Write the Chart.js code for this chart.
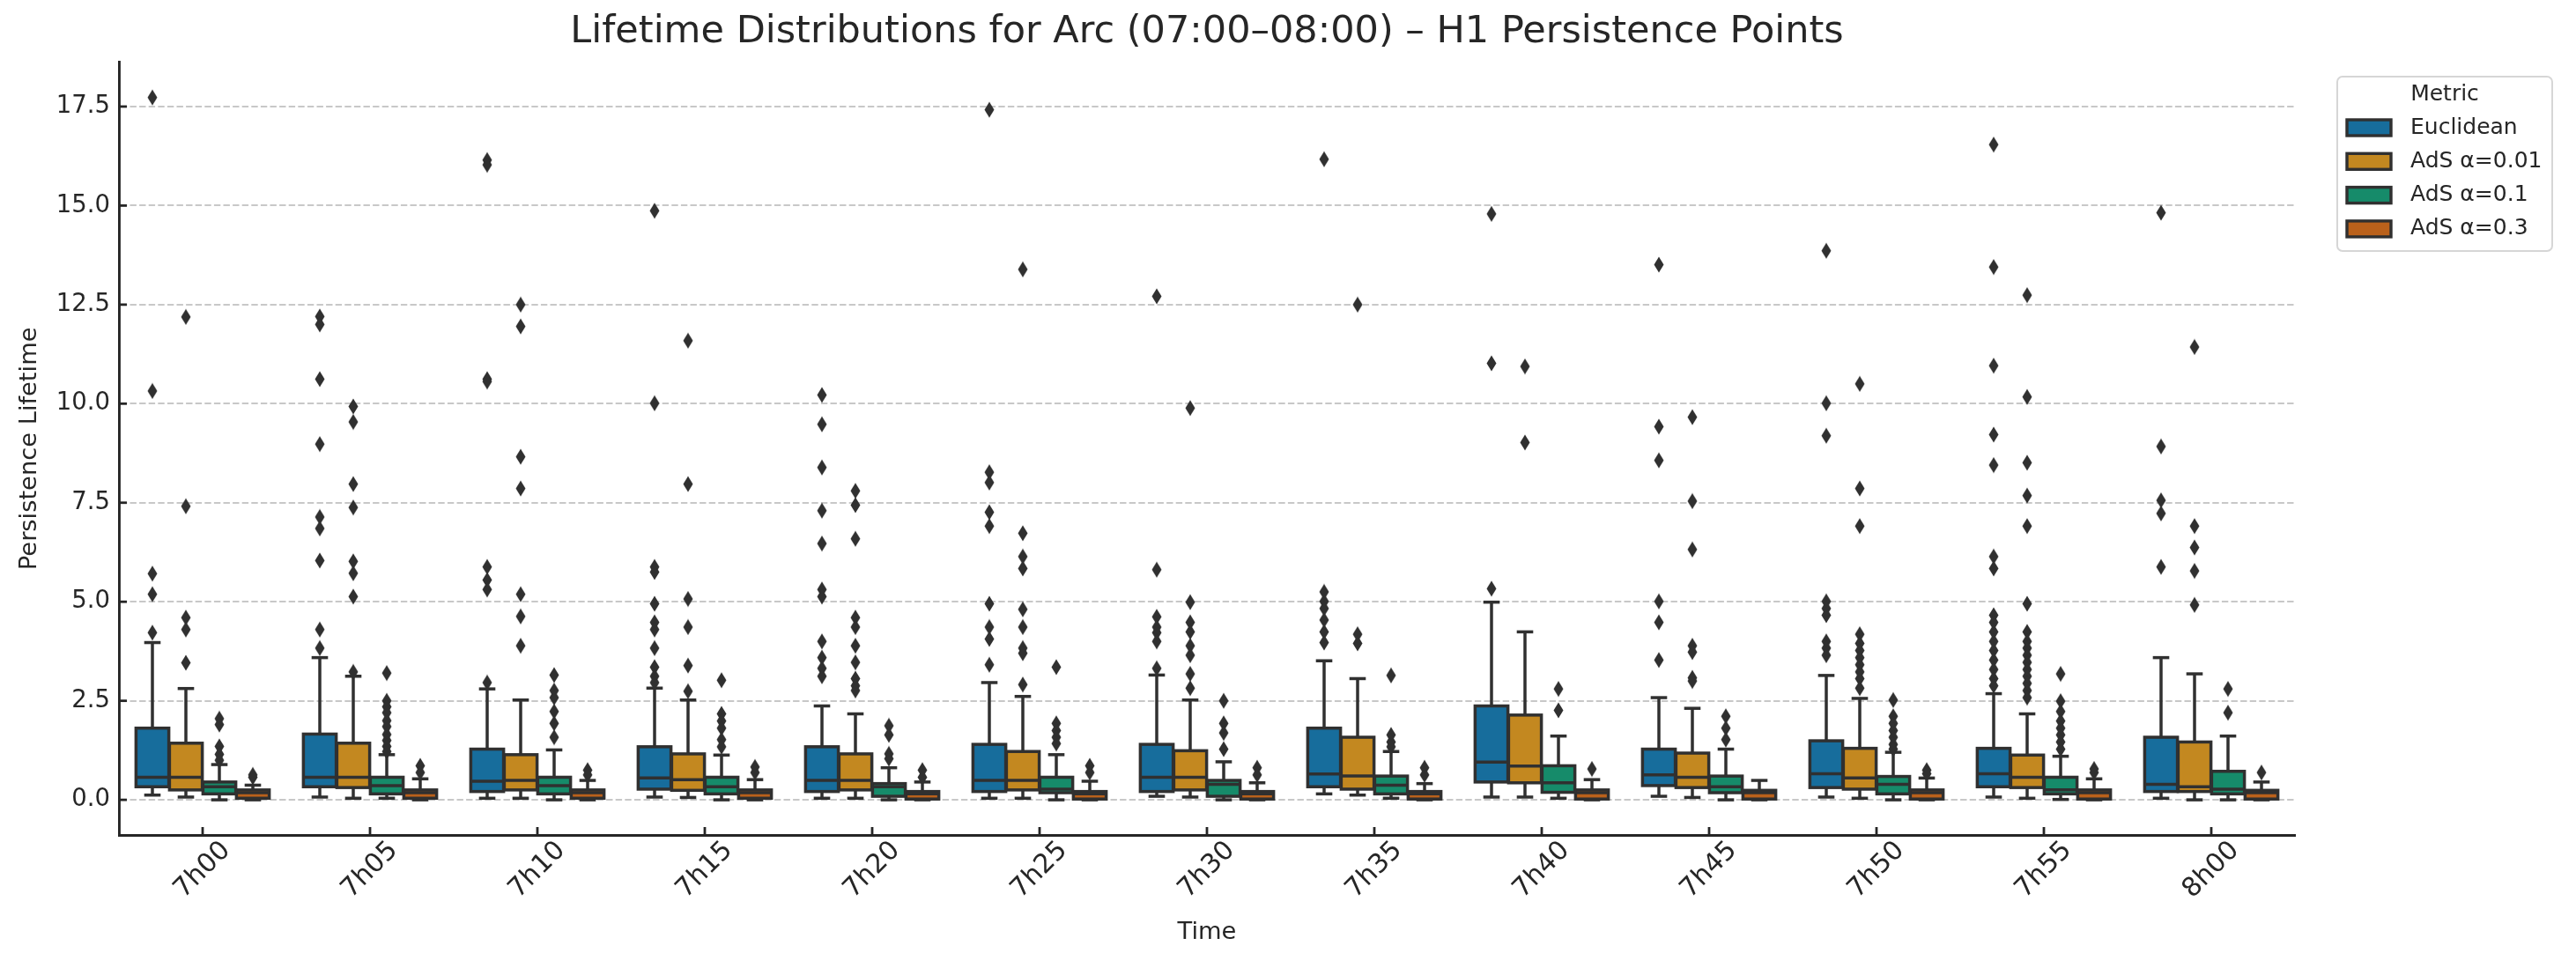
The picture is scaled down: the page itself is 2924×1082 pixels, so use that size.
<!DOCTYPE html>
<html>
<head>
<meta charset="utf-8">
<script src="https://cdn.jsdelivr.net/npm/chart.js@4.4.1/dist/chart.umd.min.js"></script>
<style>
  html, body { margin: 0; padding: 0; background: #fff; }
  #wrap { width: 2924px; height: 1082px; }
</style>
</head>
<body>
<div id="wrap"><canvas id="boxChart" width="2924" height="1082"></canvas></div>
<script>
// categories and series
const times = ["7h00", "7h05", "7h10", "7h15", "7h20", "7h25", "7h30", "7h35", "7h40", "7h45", "7h50", "7h55", "8h00"];
const metrics = ["Euclidean", "AdS α=0.01", "AdS α=0.1", "AdS α=0.3"];
const colors = ["#176D9C", "#C38820", "#168B6A", "#BA611B"];
const yTicks = [0, 2.5, 5, 7.5, 10, 12.5, 15, 17.5];

// Euclidean
const eucQ1  = [0.33, 0.33, 0.21, 0.27, 0.21, 0.21, 0.21, 0.33, 0.45, 0.36, 0.31, 0.33, 0.21];
const eucMed = [0.57, 0.57, 0.47, 0.55, 0.49, 0.49, 0.57, 0.65, 0.95, 0.63, 0.66, 0.66, 0.39];
const eucQ3  = [1.81, 1.66, 1.28, 1.34, 1.34, 1.40, 1.40, 1.81, 2.37, 1.28, 1.49, 1.30, 1.58];
const eucLo  = [0.12, 0.07, 0.04, 0.07, 0.04, 0.04, 0.09, 0.15, 0.07, 0.09, 0.07, 0.07, 0.04];
const eucHi  = [3.97, 3.59, 2.80, 2.82, 2.37, 2.96, 3.15, 3.51, 4.99, 2.58, 3.14, 2.68, 3.59];
const eucOut = [
  [17.73, 10.32, 5.71, 5.19, 4.22],
  [12.2, 12.0, 10.62, 8.98, 7.14, 6.85, 6.04, 4.3, 3.83],
  [16.15, 16.03, 10.62, 10.56, 5.88, 5.55, 5.31, 2.96],
  [14.87, 10.01, 5.88, 5.75, 4.95, 4.48, 4.3, 3.83, 3.35, 3.12, 2.96],
  [10.22, 9.48, 8.39, 7.3, 6.47, 5.31, 5.13, 4.0, 3.59, 3.32, 3.12],
  [17.42, 8.27, 8.01, 7.26, 6.91, 4.95, 4.36, 4.06, 3.41],
  [12.71, 5.81, 4.62, 4.36, 4.22, 4.0, 3.32],
  [16.17, 5.25, 5.01, 4.83, 4.54, 4.24, 3.97],
  [14.79, 11.02, 5.33],
  [13.51, 9.42, 8.57, 5.01, 4.48, 3.53],
  [13.86, 10.01, 9.19, 5.01, 4.83, 4.66, 4.0, 3.83, 3.65],
  [16.54, 13.45, 10.96, 9.22, 8.45, 6.14, 5.84, 4.66, 4.48, 4.24, 4.0, 3.77, 3.53, 3.29, 3.06, 2.88],
  [14.82, 8.92, 7.56, 7.23, 5.88]
];

// AdS alpha=0.01
const a01Q1  = [0.25, 0.31, 0.25, 0.24, 0.25, 0.25, 0.25, 0.27, 0.43, 0.31, 0.27, 0.31, 0.21];
const a01Med = [0.57, 0.57, 0.49, 0.51, 0.49, 0.49, 0.57, 0.60, 0.85, 0.57, 0.55, 0.57, 0.33];
const a01Q3  = [1.43, 1.43, 1.14, 1.16, 1.16, 1.22, 1.24, 1.58, 2.14, 1.18, 1.30, 1.13, 1.46];
const a01Lo  = [0.07, 0.04, 0.04, 0.06, 0.04, 0.04, 0.07, 0.12, 0.07, 0.06, 0.04, 0.04, 0.0];
const a01Hi  = [2.81, 3.12, 2.52, 2.52, 2.17, 2.61, 2.52, 3.06, 4.24, 2.31, 2.56, 2.17, 3.18];
const a01Out = [
  [12.19, 7.41, 4.6, 4.3, 3.46],
  [9.93, 9.54, 7.97, 7.38, 6.02, 5.72, 5.13, 3.23],
  [12.5, 11.95, 8.66, 7.86, 5.19, 4.63, 3.89],
  [11.59, 7.97, 5.07, 4.36, 3.39, 2.74],
  [7.8, 7.44, 6.59, 4.6, 4.36, 3.89, 3.47, 3.06, 2.88, 2.76],
  [13.39, 6.73, 6.14, 5.84, 4.81, 4.36, 3.83, 3.7, 2.91],
  [9.89, 4.99, 4.48, 4.24, 3.89, 3.65, 3.18, 2.82],
  [12.5, 4.18, 3.95],
  [10.94, 9.02],
  [9.66, 7.54, 6.32, 3.89, 3.73, 3.08, 3.0],
  [10.5, 7.86, 6.91, 4.18, 3.95, 3.77, 3.59, 3.41, 3.23, 3.06, 2.82],
  [12.74, 10.17, 8.51, 7.68, 6.91, 4.95, 4.24, 4.0, 3.83, 3.65, 3.47, 3.29, 3.12, 2.94, 2.76, 2.58],
  [11.43, 6.91, 6.37, 5.78, 4.92]
];

// AdS alpha=0.1
const a1Q1  = [0.15, 0.15, 0.15, 0.15, 0.09, 0.18, 0.09, 0.15, 0.19, 0.18, 0.15, 0.15, 0.15];
const a1Med = [0.33, 0.36, 0.36, 0.33, 0.33, 0.27, 0.39, 0.37, 0.43, 0.33, 0.39, 0.25, 0.27];
const a1Q3  = [0.45, 0.57, 0.57, 0.57, 0.41, 0.57, 0.49, 0.60, 0.86, 0.60, 0.59, 0.57, 0.72];
const a1Lo  = [0.0, 0.04, 0.0, 0.0, 0.0, 0.0, 0.0, 0.04, 0.04, 0.0, 0.0, 0.01, 0.0];
const a1Hi  = [0.89, 1.14, 1.26, 1.13, 0.81, 1.14, 0.96, 1.22, 1.61, 1.28, 1.20, 1.10, 1.61];
const a1Out = [
  [2.05, 1.9, 1.35, 1.15, 1.0],
  [3.2, 2.5, 2.35, 2.2, 2.0, 1.85, 1.65, 1.5, 1.35, 1.22],
  [3.15, 2.76, 2.58, 2.23, 1.93, 1.58],
  [3.02, 2.17, 1.99, 1.81, 1.52, 1.34],
  [1.87, 1.64, 1.16, 1.04],
  [3.35, 1.93, 1.75, 1.58, 1.42],
  [2.5, 1.93, 1.69, 1.28],
  [3.14, 1.64, 1.46, 1.34],
  [2.8, 2.26],
  [2.11, 1.81, 1.52],
  [2.52, 2.11, 1.93, 1.75, 1.58, 1.4, 1.28],
  [3.18, 2.49, 2.23, 1.99, 1.81, 1.64, 1.46, 1.28],
  [2.8, 2.2]
];

// AdS alpha=0.3
const a3Q1  = [0.04, 0.04, 0.04, 0.04, 0.02, 0.02, 0.02, 0.02, 0.02, 0.02, 0.02, 0.02, 0.02];
const a3Med = [0.18, 0.18, 0.18, 0.18, 0.15, 0.15, 0.15, 0.15, 0.18, 0.18, 0.18, 0.18, 0.18];
const a3Q3  = [0.25, 0.25, 0.25, 0.25, 0.21, 0.21, 0.21, 0.21, 0.25, 0.24, 0.25, 0.25, 0.24];
const a3Lo  = [0, 0, 0, 0, 0, 0, 0, 0, 0, 0, 0, 0, 0];
const a3Hi  = [0.37, 0.53, 0.49, 0.51, 0.45, 0.47, 0.43, 0.41, 0.51, 0.49, 0.55, 0.53, 0.45];
const a3Out = [
  [0.63, 0.57], [0.86, 0.69], [0.75, 0.63], [0.83, 0.69], [0.75, 0.57], [0.86, 0.69],
  [0.81, 0.63], [0.81, 0.63], [0.78], [], [0.75, 0.66], [0.78, 0.69], [0.69]
];

const stats = [
  { q1: eucQ1, med: eucMed, q3: eucQ3, lo: eucLo, hi: eucHi, out: eucOut },
  { q1: a01Q1, med: a01Med, q3: a01Q3, lo: a01Lo, hi: a01Hi, out: a01Out },
  { q1: a1Q1,  med: a1Med,  q3: a1Q3,  lo: a1Lo,  hi: a1Hi,  out: a1Out },
  { q1: a3Q1,  med: a3Med,  q3: a3Q3,  lo: a3Lo,  hi: a3Hi,  out: a3Out }
];

const INK = "#262626";
const GRAY = "#303030";
const FONT = "'DejaVu Sans', sans-serif";
const XTICK_PX = 30;
const YTICK_PX = 27.5;
Chart.defaults.font.family = FONT;
Chart.defaults.color = INK;

// hue dodge on the numeric x axis: 4 boxes side by side inside 0.8 of a slot
const dodge = h => (h - 1.5) * 0.2;

// thin diamond marker like matplotlib 'd'
function thinDiamond() {
  const c = document.createElement("canvas");
  c.width = 12; c.height = 19;
  const g = c.getContext("2d");
  g.fillStyle = GRAY;
  g.beginPath();
  g.moveTo(6, 0.5); g.lineTo(11.5, 9.5); g.lineTo(6, 18.5); g.lineTo(0.5, 9.5);
  g.closePath(); g.fill();
  return c;
}
const marker = thinDiamond();

// whiskers, caps, box edges and medians, drawn from the bar elements
const boxDecor = {
  id: "boxDecor",
  afterDatasetDraw(chart, args) {
    if (args.index >= stats.length) return;
    const s = stats[args.index];
    const ys = chart.scales.y;
    const ctx = chart.ctx;
    const line = (x1, y1, x2, y2) => { ctx.beginPath(); ctx.moveTo(x1, y1); ctx.lineTo(x2, y2); ctx.stroke(); };
    ctx.save();
    ctx.strokeStyle = GRAY;
    ctx.lineWidth = 3.5;
    args.meta.data.forEach((bar, i) => {
      const { x, width } = bar.getProps(["x", "width"], true);
      const y1 = ys.getPixelForValue(s.q1[i]);
      const y3 = ys.getPixelForValue(s.q3[i]);
      const ym = ys.getPixelForValue(s.med[i]);
      const yl = ys.getPixelForValue(s.lo[i]);
      const yh = ys.getPixelForValue(s.hi[i]);
      const cap = width / 4;
      line(x, y3, x, yh);
      line(x, y1, x, yl);
      line(x - cap, yh, x + cap, yh);
      line(x - cap, yl, x + cap, yl);
      ctx.strokeRect(x - width / 2, y3, width, y1 - y3);
      line(x - width / 2, ym, x + width / 2, ym);
    });
    ctx.restore();
  }
};

// inward tick marks and the 45 degree time labels, centred on each tick
const timeAxis = {
  id: "timeAxis",
  afterDraw(chart) {
    const { ctx, chartArea } = chart;
    const xs = chart.scales.x, ys = chart.scales.y;
    ctx.save();
    ctx.strokeStyle = INK;
    ctx.lineWidth = 2.8;
    ys.ticks.forEach((t, i) => {
      const py = ys.getPixelForTick(i);
      ctx.beginPath(); ctx.moveTo(chartArea.left, py); ctx.lineTo(chartArea.left + 9, py); ctx.stroke();
    });
    ctx.font = XTICK_PX + "px " + FONT;
    ctx.fillStyle = INK;
    ctx.textAlign = "right";
    ctx.textBaseline = "middle";
    times.forEach((t, i) => {
      const px = xs.getPixelForValue(i);
      ctx.beginPath(); ctx.moveTo(px, chartArea.bottom); ctx.lineTo(px, chartArea.bottom - 9); ctx.stroke();
      const w = ctx.measureText(t).width;
      ctx.save();
      ctx.translate(px + w * 0.354, chartArea.bottom + 13);
      ctx.rotate(-Math.PI / 4);
      ctx.fillText(t, 0, 0);
      ctx.restore();
    });
    ctx.restore();
  }
};

// legend box on the right
const legendBox = {
  id: "legendBox",
  afterDraw(chart) {
    const ctx = chart.ctx;
    const L = 2653, T = 87, W = 244, H = 198;
    ctx.save();
    ctx.fillStyle = "rgba(255,255,255,0.8)";
    ctx.strokeStyle = "#d6d6d6";
    ctx.lineWidth = 2;
    ctx.beginPath();
    ctx.roundRect(L, T, W, H, 6);
    ctx.fill();
    ctx.stroke();
    ctx.font = "25px " + FONT;
    ctx.textBaseline = "middle";
    ctx.fillStyle = INK;
    ctx.textAlign = "center";
    ctx.fillText("Metric", L + W / 2, 107);
    ctx.textAlign = "left";
    metrics.forEach((m, h) => {
      const cy = 145 + h * 38.3;
      ctx.fillStyle = colors[h];
      ctx.fillRect(2664, cy - 9, 50, 18);
      ctx.strokeStyle = GRAY;
      ctx.lineWidth = 3.4;
      ctx.strokeRect(2664, cy - 9, 50, 18);
      ctx.fillStyle = INK;
      ctx.fillText(m, 2736, cy);
    });
    ctx.restore();
  }
};

// boxes: floating bars q1..q3 on the numeric slot axis
const boxSets = stats.map((s, h) => ({
  type: "bar",
  label: metrics[h],
  xAxisID: "xo",
  yAxisID: "y",
  data: s.q1.map((v, i) => ({ x: i + dodge(h), y: [v, s.q3[i]] })),
  backgroundColor: colors[h],
  borderWidth: 0,
  grouped: false,
  categoryPercentage: 1,
  barPercentage: 0.98,
  order: 1
}));

// outliers
const flierSets = stats.map((s, h) => ({
  type: "scatter",
  label: metrics[h] + " outliers",
  xAxisID: "xo",
  yAxisID: "y",
  data: s.out.flatMap((vals, i) => vals.map(v => ({ x: i + dodge(h), y: v }))),
  pointStyle: marker,
  pointRadius: 8,
  order: 0
}));

new Chart(document.getElementById("boxChart"), {
  type: "bar",
  data: { labels: times, datasets: [...boxSets, ...flierSets] },
  plugins: [boxDecor, timeAxis, legendBox],
  options: {
    responsive: false,
    devicePixelRatio: 1,
    animation: false,
    layout: { padding: { left: 0, right: 319, top: 0, bottom: 0 } },
    plugins: {
      legend: { display: false },
      tooltip: { enabled: false },
      title: {
        display: true,
        fullSize: false,
        text: "Lifetime Distributions for Arc (07:00–08:00) – H1 Persistence Points",
        color: INK,
        font: { size: 43, weight: "normal" },
        padding: { top: 11, bottom: 8 }
      }
    },
    scales: {
      x: {
        type: "category",
        offset: true,
        grid: { display: false, drawTicks: false },
        border: { display: true, color: INK, width: 2.9 },
        ticks: { display: false },
        title: { display: true, text: "Time", color: INK, font: { size: 27.3 }, padding: { top: 0, bottom: 6.5 } },
        afterFit(s) { s.height = 134; }
      },
      xo: { type: "linear", display: false, offset: false, grid: { offset: false }, min: -0.5, max: 12.5 },
      y: {
        min: -0.887,
        max: 18.62,
        stacked: false,
        afterBuildTicks(s) { s.ticks = yTicks.map(v => ({ value: v })); },
        grid: { color: "#c8c8c8", lineWidth: 2, drawTicks: false },
        border: { display: true, color: INK, width: 2.9, dash: [7.4, 3.2] },
        ticks: { padding: 10, color: INK, font: { size: YTICK_PX }, callback: v => v.toFixed(1) },
        title: { display: true, text: "Persistence Lifetime", color: INK, font: { size: 27.3 }, padding: { top: 17.5, bottom: 0 } },
        afterFit(s) { s.width = 135; }
      }
    }
  }
});
</script>
</body>
</html>
